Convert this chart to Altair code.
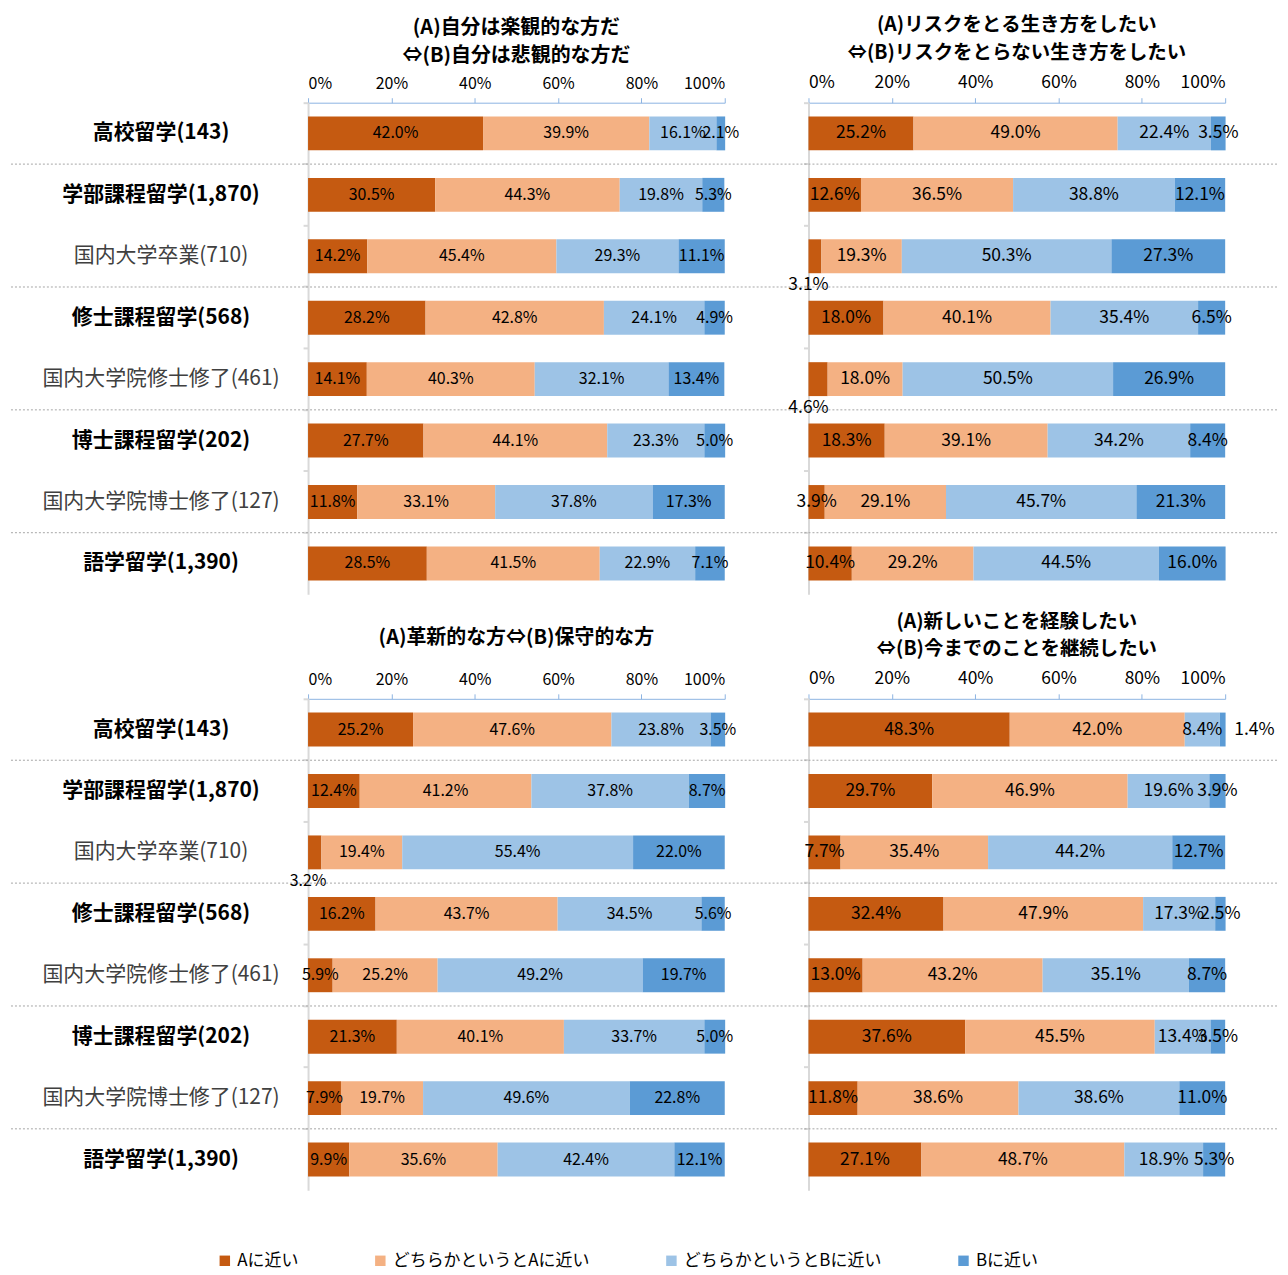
import altair as alt
import pandas as pd

categories = ["高校留学(143)", "学部課程留学(1,870)", "国内大学卒業(710)", "修士課程留学(568)",
              "国内大学院修士修了(461)", "博士課程留学(202)", "国内大学院博士修了(127)", "語学留学(1,390)"]
segments = ["Aに近い", "どちらかというとAに近い", "どちらかというとBに近い", "Bに近い"]
colors = ["#C55A11", "#F4B183", "#9DC3E6", "#5B9BD5"]
x_ticks = [0, 20, 40, 60, 80, 100]
separator_rows = ["学部課程留学(1,870)", "修士課程留学(568)", "博士課程留学(202)", "語学留学(1,390)"]

title_optimism = ["(A)自分は楽観的な方だ", "⇔(B)自分は悲観的な方だ"]
title_risk = ["(A)リスクをとる生き方をしたい", "⇔(B)リスクをとらない生き方をしたい"]
title_innov = "(A)革新的な方⇔(B)保守的な方"
title_new = ["(A)新しいことを経験したい", "⇔(B)今までのことを継続したい"]

optimism = [[42.0, 39.9, 16.1, 2.1], [30.5, 44.3, 19.8, 5.3], [14.2, 45.4, 29.3, 11.1],
            [28.2, 42.8, 24.1, 4.9], [14.1, 40.3, 32.1, 13.4], [27.7, 44.1, 23.3, 5.0],
            [11.8, 33.1, 37.8, 17.3], [28.5, 41.5, 22.9, 7.1]]
risk = [[25.2, 49.0, 22.4, 3.5], [12.6, 36.5, 38.8, 12.1], [3.1, 19.3, 50.3, 27.3],
        [18.0, 40.1, 35.4, 6.5], [4.6, 18.0, 50.5, 26.9], [18.3, 39.1, 34.2, 8.4],
        [3.9, 29.1, 45.7, 21.3], [10.4, 29.2, 44.5, 16.0]]
innov = [[25.2, 47.6, 23.8, 3.5], [12.4, 41.2, 37.8, 8.7], [3.2, 19.4, 55.4, 22.0],
         [16.2, 43.7, 34.5, 5.6], [5.9, 25.2, 49.2, 19.7], [21.3, 40.1, 33.7, 5.0],
         [7.9, 19.7, 49.6, 22.8], [9.9, 35.6, 42.4, 12.1]]
new_exp = [[48.3, 42.0, 8.4, 1.4], [29.7, 46.9, 19.6, 3.9], [7.7, 35.4, 44.2, 12.7],
           [32.4, 47.9, 17.3, 2.5], [13.0, 43.2, 35.1, 8.7], [37.6, 45.5, 13.4, 3.5],
           [11.8, 38.6, 38.6, 11.0], [27.1, 48.7, 18.9, 5.3]]

JP = "Noto Sans CJK JP"
PLOT_W = 418
PLOT_H = 493


def table(values):
    rows = []
    for cat, vals in zip(categories, values):
        acc = 0.0
        for i, (seg, v) in enumerate(zip(segments, vals)):
            pos = acc + v / 2
            below = False
            # tiny last segments are labelled just outside the bar end
            if i == 3 and v < 2:
                pos = 100 + 7
            # tiny first segments next to a narrow second one are labelled under the bar start
            if i == 0 and v < 5 and vals[1] < 20:
                pos = 0
                below = True
            rows.append({"cat": cat, "seg": seg, "idx": i, "v": v,
                         "mid": pos, "below": below, "lab": f"{v:.1f}%"})
            acc += v
    return pd.DataFrame(rows)


def panel(values, title, left, title_dy=0):
    df = table(values)
    num_size = 16 if left else 17.5
    yscale = alt.Scale(domain=categories, paddingInner=0, paddingOuter=0)
    if left:
        yaxis = alt.Axis(title=None, domainColor="#D9D9D9", domainWidth=2,
                         tickColor="#D9D9D9", tickWidth=2, tickSize=5, bandPosition=0,
                         labelAlign="center", labelPadding=143, labelFontSize=21,
                         labelFont=JP, labelLimit=400,
                         labelFontWeight=alt.condition("indexof(datum.value, '国内') === 0",
                                                       alt.value("normal"), alt.value("bold")),
                         labelColor=alt.condition("indexof(datum.value, '国内') === 0",
                                                  alt.value("#404040"), alt.value("#000000")))
    else:
        yaxis = alt.Axis(title=None, labels=False, domainColor="#D9D9D9", domainWidth=2,
                         tickColor="#D9D9D9", tickWidth=2, tickSize=5, bandPosition=0)
    xscale = alt.Scale(domain=[0, 100], nice=False)
    xaxis = alt.Axis(title=None, orient="top", values=x_ticks, labelExpr="datum.value + '%'",
                     domainColor="#8DB4E2", tickColor="#8DB4E2", tickSize=5, grid=False,
                     labelFont=JP, labelFontSize=num_size, labelColor="#000000", labelPadding=6)

    base = alt.Chart(df)
    bars = base.mark_bar(size=34).encode(
        x=alt.X("v:Q", stack="zero", scale=xscale, axis=xaxis),
        y=alt.Y("cat:N", sort=categories, scale=yscale, axis=yaxis),
        color=alt.Color("seg:N", scale=alt.Scale(domain=segments, range=colors),
                        legend=alt.Legend(title=None, orient="none", legendX=-92, legendY=1153,
                                          direction="horizontal")),
        order=alt.Order("idx:Q"),
    )
    texts = base.transform_filter("!datum.below").mark_text(
        fontSize=num_size, font=JP, color="#000000").encode(
        x=alt.X("mid:Q", scale=xscale),
        y=alt.Y("cat:N", sort=categories, scale=yscale),
        text="lab:N",
    )
    texts_below = base.transform_filter("datum.below").mark_text(
        fontSize=num_size, font=JP, color="#000000", dy=29).encode(
        x=alt.X("mid:Q", scale=xscale),
        y=alt.Y("cat:N", sort=categories, scale=yscale),
        text="lab:N",
    )
    sep_df = pd.DataFrame({"cat": separator_rows})
    x_from = -20 if left is False else -298
    x_to = 480 if left else 470
    seps = alt.Chart(sep_df).mark_rule(color="#A6A6A6", strokeDash=[2, 2], strokeWidth=1).encode(
        y=alt.Y("cat:N", sort=categories, scale=yscale, bandPosition=0),
        x=alt.value(x_from), x2=alt.value(x_to),
    )
    return alt.layer(bars, texts, texts_below, seps).properties(
        width=PLOT_W, height=PLOT_H,
        title=alt.TitleParams(text=title, font=JP, fontSize=20 if left else 19.5,
                              fontWeight="bold", color="#000000", anchor="middle",
                              lineHeight=28, offset=10, dy=title_dy),
    )


top = alt.hconcat(panel(optimism, title_optimism, True), panel(risk, title_risk, False), spacing=0)
bottom = alt.hconcat(panel(innov, title_innov, True, title_dy=-14), panel(new_exp, title_new, False), spacing=0)

chart = alt.vconcat(top, bottom, spacing=17).properties(
    padding={"left": 2, "top": 5, "right": 2, "bottom": 2}
).configure_view(stroke=None).configure_legend(
    symbolType="square", symbolSize=110,
    labelFont=JP, labelFontSize=17, labelColor="#000000",
    columnPadding=73, labelLimit=400
)

chart.save("out.html", embed_options={"renderer": "svg", "actions": False})
